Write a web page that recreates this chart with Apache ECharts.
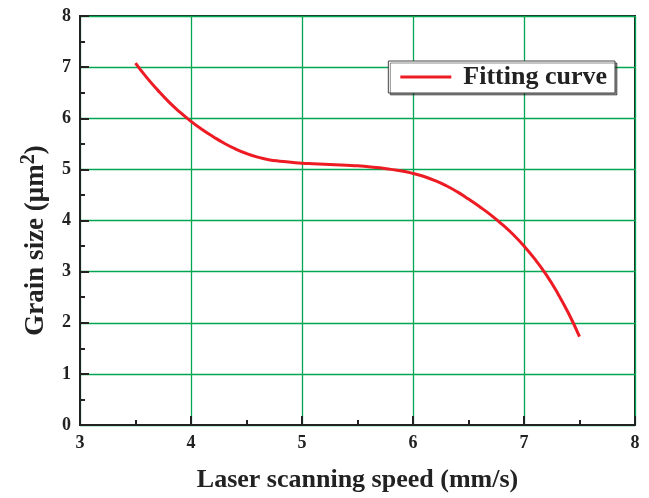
<!DOCTYPE html>
<html>
<head>
<meta charset="utf-8">
<script src="https://cdn.jsdelivr.net/npm/echarts@6/dist/echarts.min.js"></script>
<style>
  html, body { margin: 0; padding: 0; background: #fff; }
  #chart { width: 649px; height: 498px; }
</style>
</head>
<body>
<div id="chart"></div>
<script>
// Laser scanning speed (mm/s)
const speeds = [3.5, 3.6, 3.7, 3.8, 3.9, 4.0, 4.1, 4.2, 4.3, 4.4, 4.5, 4.6, 4.7, 4.8, 4.9,
  5.0, 5.1, 5.2, 5.3, 5.4, 5.5, 5.6, 5.7, 5.8, 5.9, 6.0, 6.1, 6.2, 6.3, 6.4, 6.5,
  6.6, 6.7, 6.8, 6.9, 7.0, 7.1, 7.2, 7.3, 7.4, 7.5];
// Grain size (μm²) on the fitted curve
const grainSize = [7.08, 6.80, 6.55, 6.32, 6.12, 5.94, 5.78, 5.64, 5.51, 5.40, 5.31, 5.24, 5.19, 5.16, 5.14,
  5.12, 5.11, 5.10, 5.09, 5.08, 5.07, 5.05, 5.03, 5.00, 4.97, 4.92, 4.86, 4.78, 4.68, 4.56, 4.42,
  4.27, 4.11, 3.93, 3.73, 3.50, 3.24, 2.94, 2.59, 2.19, 1.73];
const seriesName = 'Fitting curve';

const serif = '"Liberation Serif", "DejaVu Serif", serif';
const gridGreen = '#00a651';
const ink = '#222';

const chart = echarts.init(document.getElementById('chart'), null, { renderer: 'canvas' });

const axisCommon = {
  axisLine: { show: true, onZero: false, lineStyle: { color: ink, width: 2 } },
  axisTick: { show: true, inside: true, length: 9, lineStyle: { color: ink, width: 2 } },
  minorTick: { show: true, splitNumber: 2, length: 5, lineStyle: { color: ink, width: 2 } },
  splitLine: { show: true, lineStyle: { color: gridGreen, width: 1.3 } }
};

const option = {
  backgroundColor: '#fff',
  animation: false,
  grid: {
    left: 80, right: 14, top: 16, bottom: 68,
    show: true, borderColor: ink, borderWidth: 2, backgroundColor: 'transparent'
  },
  legend: {
    data: [seriesName],
    right: 34, top: 61,
    padding: [3, 8, 3, 12],
    icon: 'path://M0,0 H51 V3 H0 Z',
    itemWidth: 51, itemHeight: 3, itemGap: 10,
    backgroundColor: '#fff',
    borderColor: '#444', borderWidth: 1,
    shadowColor: 'rgba(0,0,0,0.45)', shadowOffsetX: 2, shadowOffsetY: 2, shadowBlur: 0,
    textStyle: { fontFamily: serif, fontWeight: 'bold', fontSize: 26, color: ink, padding: [2, 0, 0, 7] }
  },
  xAxis: Object.assign({
    type: 'value', min: 3, max: 8, interval: 1,
    name: 'Laser scanning speed (mm/s)',
    nameLocation: 'middle', nameGap: 42,
    nameTextStyle: { fontFamily: serif, fontWeight: 'bold', fontSize: 26, color: ink },
    axisLabel: { fontFamily: serif, fontWeight: 'bold', fontSize: 18, color: ink, margin: 9 }
  }, axisCommon),
  yAxis: Object.assign({
    type: 'value', min: 0, max: 8, interval: 1,
    name: '{a|Grain size (μm}{s|2}{a|)}',
    nameLocation: 'middle', nameGap: 27, nameRotate: 90,
    nameTextStyle: {
      padding: [0, 40, 0, 0],
      rich: {
        a: { fontFamily: serif, fontWeight: 'bold', fontSize: 27, color: ink },
        s: { fontFamily: serif, fontWeight: 'bold', fontSize: 20, color: ink, verticalAlign: 'top', padding: [0, 0, 14, 0] }
      }
    },
    axisLabel: { fontFamily: serif, fontWeight: 'bold', fontSize: 18, color: ink, margin: 9 }
  }, axisCommon),
  series: [{
    name: seriesName,
    type: 'line',
    data: speeds.map((s, i) => [s, grainSize[i]]),
    smooth: true,
    symbol: 'none',
    lineStyle: { color: '#ed1c24', width: 3 },
    itemStyle: { color: '#ed1c24' }
  }]
};

chart.setOption(option);
</script>
</body>
</html>
